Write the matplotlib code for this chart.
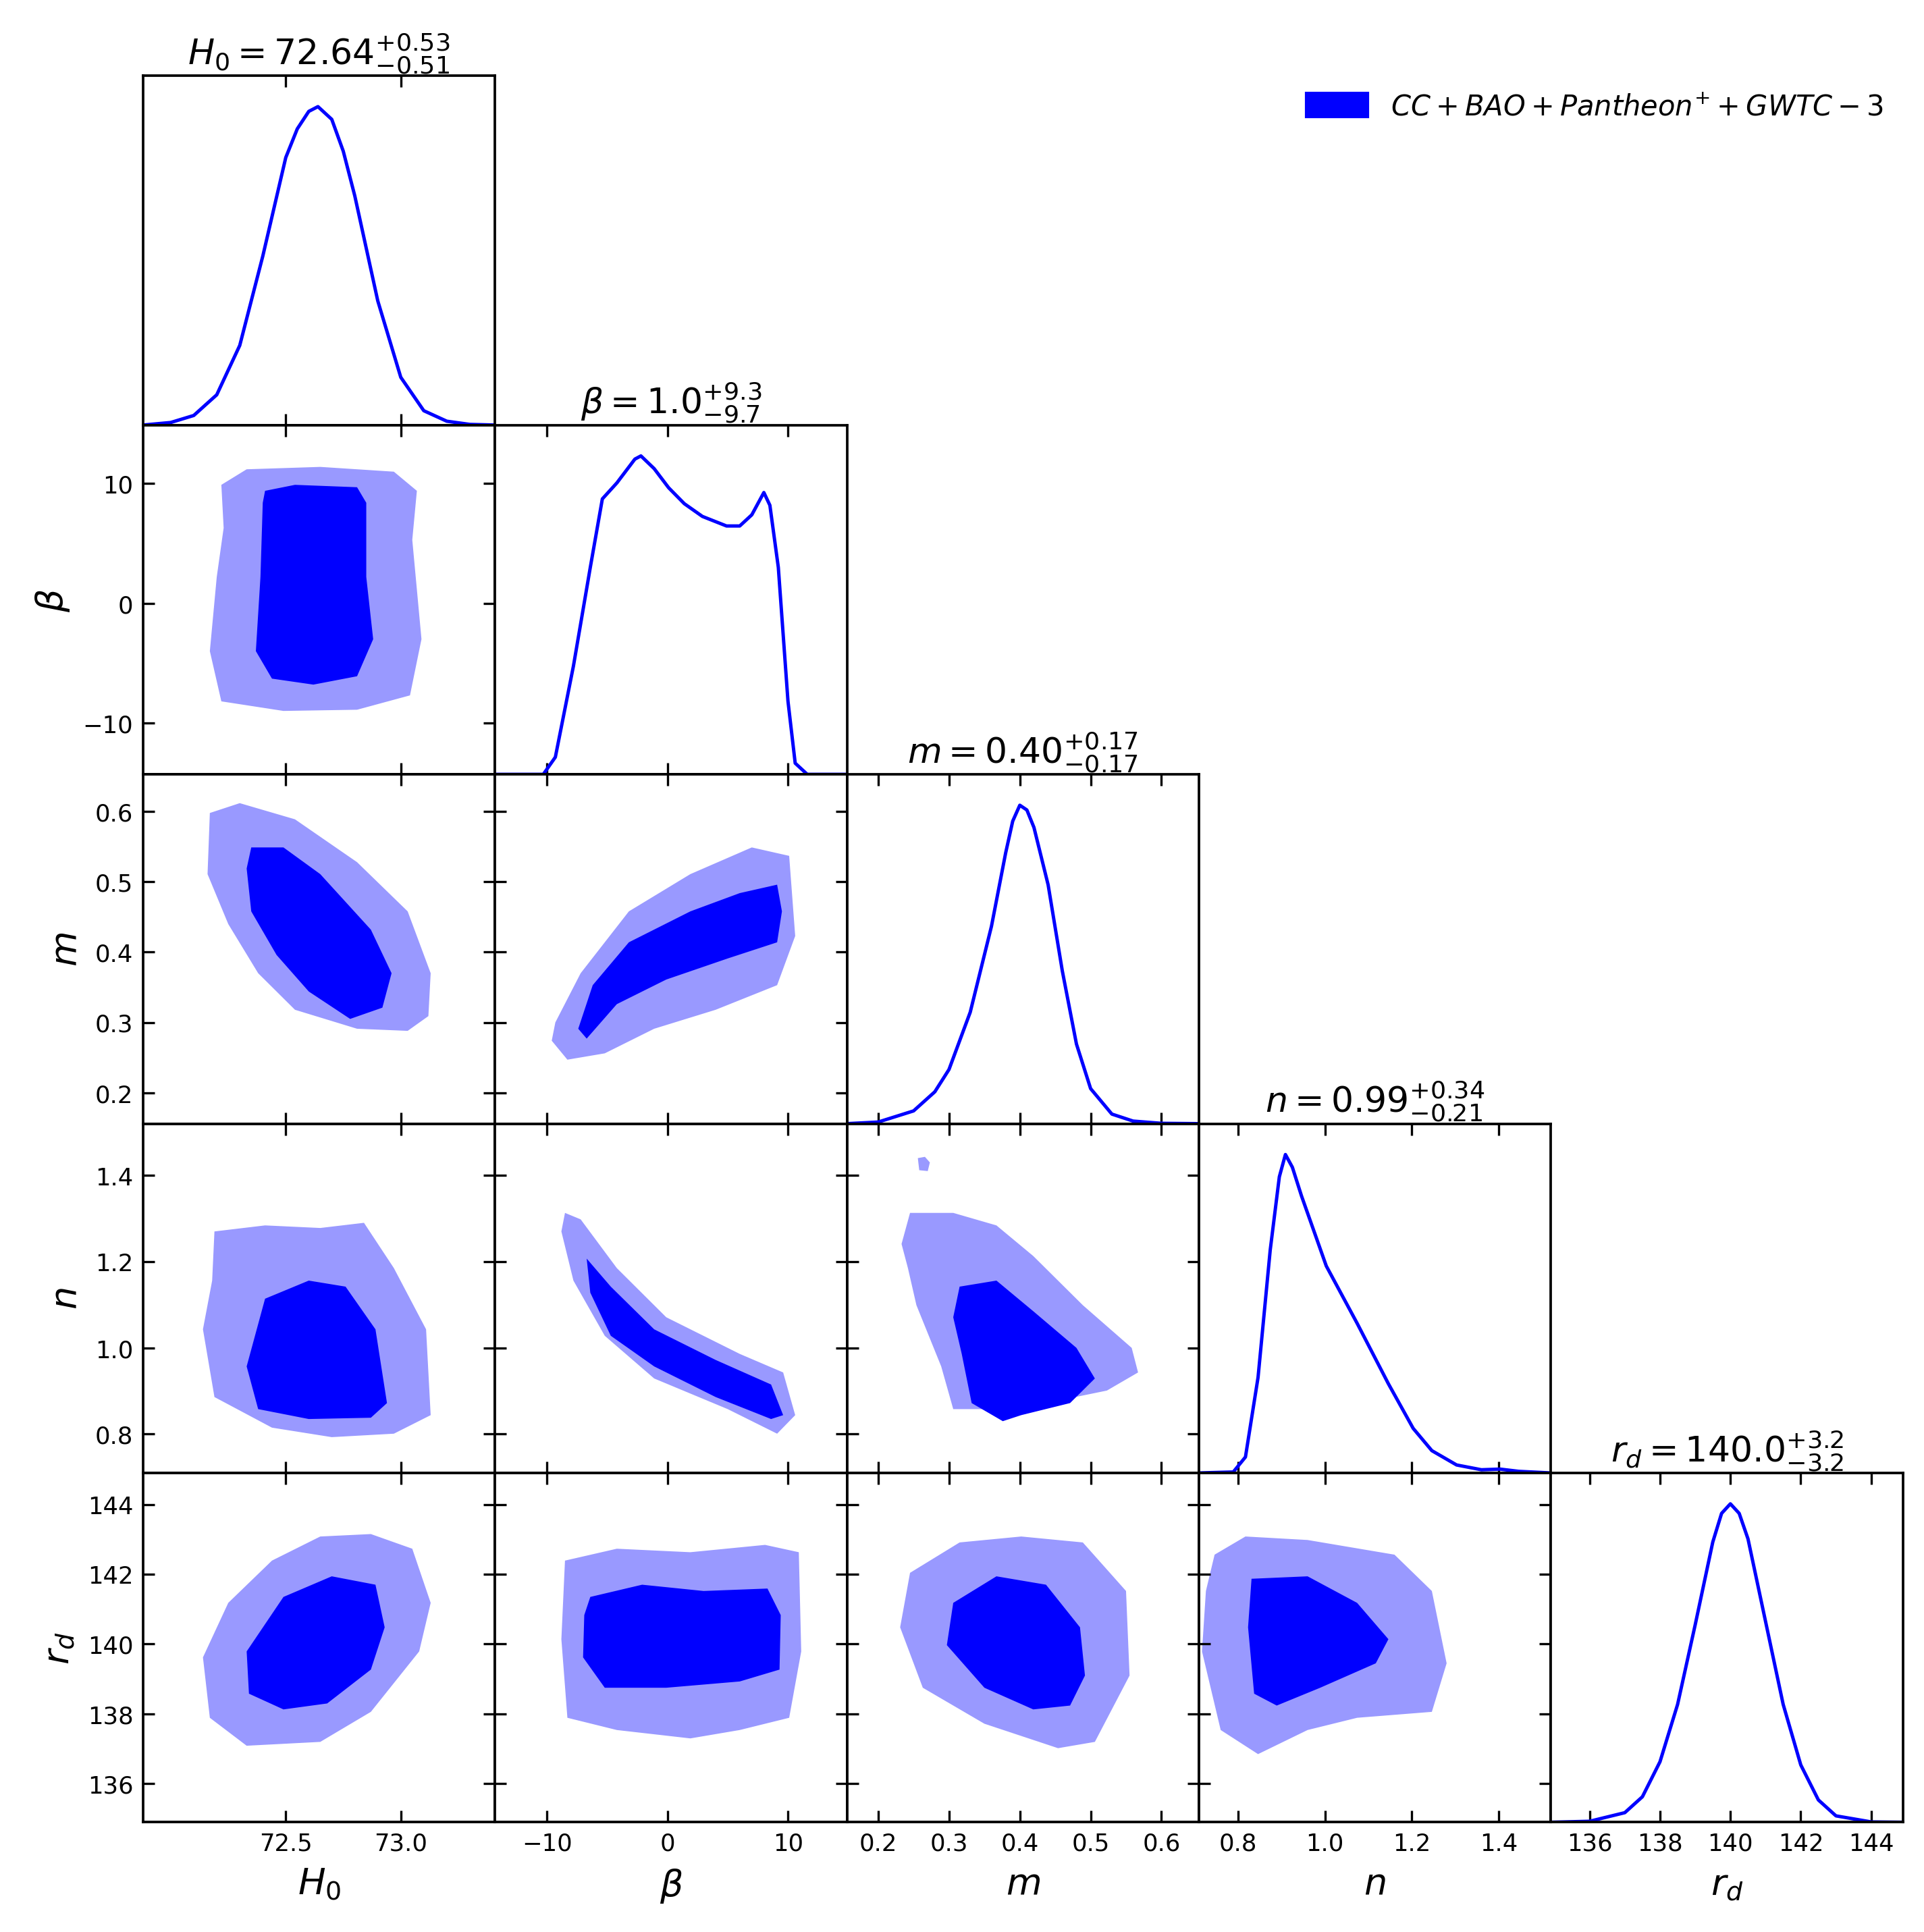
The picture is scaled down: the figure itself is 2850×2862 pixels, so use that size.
import matplotlib.pyplot as plt
from matplotlib.patches import Patch

# parameter names, titles and plotting ranges
names = ["H0", "beta", "m", "n", "rd"]
labels = [r"$H_0$", r"$\beta$", r"$m$", r"$n$", r"$r_d$"]
titles = [r"$H_0 = 72.64^{+0.53}_{-0.51}$", r"$\beta = 1.0^{+9.3}_{-9.7}$",
          r"$m = 0.40^{+0.17}_{-0.17}$", r"$n = 0.99^{+0.34}_{-0.21}$",
          r"$r_d = 140.0^{+3.2}_{-3.2}$"]
limits = {"H0": (71.88, 73.41), "beta": (-14.3, 14.9), "m": (0.156, 0.653),
          "n": (0.71, 1.52), "rd": (134.9, 144.9)}
ticks = {"H0": [72.5, 73.0], "beta": [-10, 0, 10], "m": [0.2, 0.3, 0.4, 0.5, 0.6],
         "n": [0.8, 1.0, 1.2, 1.4], "rd": [136, 138, 140, 142, 144]}
ticklabels = {"H0": ["72.5", "73.0"], "beta": ["\u221210", "0", "10"],
              "m": ["0.2", "0.3", "0.4", "0.5", "0.6"], "n": ["0.8", "1.0", "1.2", "1.4"],
              "rd": ["136", "138", "140", "142", "144"]}

# 1D marginals (normalised to peak = 1)
h0_x = [71.88, 72.0, 72.1, 72.2, 72.3, 72.4, 72.5, 72.55, 72.6, 72.64, 72.7, 72.75, 72.8, 72.9, 73.0, 73.1, 73.2, 73.3, 73.41]
h0_p = [0.0, 0.008, 0.03, 0.095, 0.25, 0.53, 0.84, 0.93, 0.985, 1.0, 0.96, 0.86, 0.72, 0.39, 0.15, 0.045, 0.012, 0.002, 0.0]
beta_x = [-14.3, -10.3, -9.3, -7.8, -6.4, -5.4, -4.2, -2.7, -2.2, -1.1, 0.1, 1.4, 2.9, 4.9, 6.0, 7.0, 8.0, 8.5, 9.2, 10.0, 10.6, 11.6, 14.9]
beta_p = [0.0, 0.0, 0.054, 0.34, 0.65, 0.865, 0.915, 0.99, 1.0, 0.96, 0.90, 0.85, 0.81, 0.78, 0.78, 0.815, 0.885, 0.845, 0.65, 0.23, 0.035, 0.0, 0.0]
m_x = [0.156, 0.2, 0.25, 0.28, 0.3, 0.33, 0.36, 0.38, 0.39, 0.40, 0.41, 0.42, 0.44, 0.46, 0.48, 0.50, 0.53, 0.56, 0.6, 0.653]
m_p = [0.0, 0.005, 0.04, 0.10, 0.17, 0.35, 0.62, 0.85, 0.95, 1.0, 0.985, 0.93, 0.75, 0.48, 0.25, 0.11, 0.03, 0.008, 0.001, 0.0]
n_x = [0.71, 0.789, 0.817, 0.846, 0.874, 0.895, 0.909, 0.925, 0.946, 1.003, 1.074, 1.146, 1.203, 1.246, 1.303, 1.36, 1.403, 1.446, 1.52]
n_p = [0.0, 0.003, 0.05, 0.3, 0.7, 0.93, 1.0, 0.96, 0.87, 0.65, 0.47, 0.28, 0.14, 0.07, 0.025, 0.01, 0.012, 0.005, 0.0]
rd_x = [134.9, 136, 137, 137.5, 138, 138.5, 139, 139.5, 139.75, 140, 140.25, 140.5, 141, 141.5, 142, 142.5, 143, 144, 144.9]
rd_p = [0.0, 0.003, 0.03, 0.08, 0.19, 0.37, 0.62, 0.88, 0.97, 1.0, 0.97, 0.89, 0.63, 0.37, 0.18, 0.07, 0.02, 0.001, 0.0]
marginals = {"H0": (h0_x, h0_p), "beta": (beta_x, beta_p), "m": (m_x, m_p),
             "n": (n_x, n_p), "rd": (rd_x, rd_p)}

# 2D contours: (x-param, y-param) -> list of (level, xs, ys)
contours = {
    ("H0", "beta"): [
        ("outer", [72.22, 72.33, 72.65, 72.97, 73.07, 73.05, 73.09, 73.04, 72.81, 72.49, 72.22, 72.17, 72.20, 72.23],
                  [9.9, 11.2, 11.4, 11.0, 9.4, 5.3, -3.0, -7.7, -8.9, -9.0, -8.2, -4.0, 2.2, 6.3]),
        ("inner", [72.41, 72.54, 72.81, 72.85, 72.85, 72.88, 72.81, 72.62, 72.44, 72.37, 72.39, 72.40],
                  [9.4, 9.9, 9.7, 8.4, 2.2, -3.0, -6.1, -6.8, -6.3, -4.0, 2.2, 8.4]),
    ],
    ("H0", "m"): [
        ("outer", [72.17, 72.30, 72.54, 72.81, 73.03, 73.13, 73.12, 73.03, 72.81, 72.54, 72.38, 72.25, 72.16],
                  [0.598, 0.612, 0.589, 0.528, 0.458, 0.370, 0.309, 0.288, 0.291, 0.318, 0.370, 0.440, 0.511]),
        ("inner", [72.35, 72.49, 72.65, 72.87, 72.96, 72.92, 72.78, 72.60, 72.46, 72.35, 72.33],
                  [0.549, 0.549, 0.511, 0.432, 0.370, 0.321, 0.305, 0.344, 0.396, 0.458, 0.519]),
    ],
    ("beta", "m"): [
        ("outer", [-9.3, -7.2, -3.2, 1.9, 7.0, 10.1, 10.6, 9.1, 4.0, -1.1, -5.2, -8.3, -9.6],
                  [0.300, 0.370, 0.458, 0.511, 0.549, 0.537, 0.423, 0.353, 0.318, 0.291, 0.256, 0.247, 0.274]),
        ("inner", [-7.4, -6.2, -3.2, 1.9, 6.0, 9.1, 9.5, 9.1, 5.0, -0.1, -4.2, -6.7],
                  [0.291, 0.353, 0.414, 0.458, 0.484, 0.496, 0.458, 0.414, 0.391, 0.361, 0.326, 0.277]),
    ],
    ("H0", "n"): [
        ("outer", [72.19, 72.41, 72.65, 72.84, 72.97, 73.11, 73.13, 72.97, 72.70, 72.44, 72.19, 72.14, 72.18],
                  [1.270, 1.284, 1.278, 1.290, 1.185, 1.043, 0.844, 0.801, 0.793, 0.815, 0.886, 1.043, 1.156]),
        ("inner", [72.41, 72.60, 72.76, 72.89, 72.94, 72.87, 72.60, 72.38, 72.33],
                  [1.114, 1.156, 1.142, 1.043, 0.872, 0.838, 0.835, 0.858, 0.957]),
    ],
    ("beta", "n"): [
        ("outer", [-8.5, -7.2, -4.2, -0.1, 6.0, 9.6, 10.6, 9.1, 5.0, -1.1, -5.2, -7.8, -8.8],
                  [1.313, 1.298, 1.185, 1.071, 0.986, 0.943, 0.844, 0.801, 0.858, 0.929, 1.028, 1.156, 1.270]),
        ("inner", [-6.7, -4.7, -1.1, 4.0, 8.6, 9.6, 8.6, 4.0, -1.1, -4.7, -6.4],
                  [1.207, 1.142, 1.043, 0.972, 0.915, 0.844, 0.835, 0.886, 0.957, 1.028, 1.128]),
    ],
    ("m", "n"): [
        ("outer", [0.245, 0.306, 0.367, 0.419, 0.489, 0.558, 0.567, 0.523, 0.437, 0.350, 0.306, 0.289, 0.254, 0.242, 0.233],
                  [1.313, 1.313, 1.284, 1.213, 1.099, 1.0, 0.943, 0.901, 0.872, 0.858, 0.858, 0.957, 1.099, 1.185, 1.241]),
        ("outer", [0.256, 0.266, 0.273, 0.270, 0.258], [1.44, 1.443, 1.43, 1.41, 1.412]),
        ("inner", [0.315, 0.367, 0.419, 0.480, 0.506, 0.471, 0.402, 0.376, 0.332, 0.318, 0.306],
                  [1.142, 1.156, 1.085, 1.0, 0.929, 0.872, 0.844, 0.830, 0.872, 0.986, 1.071]),
    ],
    ("H0", "rd"): [
        ("outer", [72.14, 72.25, 72.44, 72.65, 72.87, 73.05, 73.13, 73.08, 72.87, 72.65, 72.33, 72.17],
                  [139.62, 141.18, 142.39, 143.08, 143.15, 142.73, 141.18, 139.79, 138.06, 137.20, 137.09, 137.89]),
        ("inner", [72.33, 72.49, 72.70, 72.89, 72.93, 72.87, 72.68, 72.49, 72.34],
                  [139.79, 141.35, 141.94, 141.70, 140.48, 139.27, 138.30, 138.13, 138.58]),
    ],
    ("beta", "rd"): [
        ("outer", [-8.5, -4.2, 1.9, 8.1, 10.9, 11.1, 10.1, 6.0, 1.9, -4.2, -8.3, -8.8],
                  [142.39, 142.73, 142.63, 142.84, 142.63, 139.79, 137.89, 137.54, 137.30, 137.54, 137.89, 140.14]),
        ("inner", [-6.4, -2.1, 3.0, 8.3, 9.4, 9.3, 6.0, -0.1, -5.2, -7.0, -6.9],
                  [141.35, 141.70, 141.52, 141.59, 140.83, 139.27, 138.93, 138.75, 138.75, 139.62, 140.83]),
    ],
    ("m", "rd"): [
        ("outer", [0.245, 0.315, 0.402, 0.489, 0.550, 0.555, 0.506, 0.454, 0.350, 0.263, 0.231],
                  [142.04, 142.91, 143.08, 142.91, 141.52, 139.10, 137.20, 137.02, 137.72, 138.75, 140.48]),
        ("inner", [0.306, 0.367, 0.437, 0.485, 0.492, 0.471, 0.419, 0.350, 0.297],
                  [141.18, 141.94, 141.70, 140.48, 139.10, 138.24, 138.13, 138.75, 139.97]),
    ],
    ("n", "rd"): [
        ("outer", [0.746, 0.817, 0.960, 1.160, 1.246, 1.280, 1.246, 1.074, 0.960, 0.846, 0.760, 0.717, 0.726],
                  [142.56, 143.08, 142.98, 142.56, 141.52, 139.45, 138.06, 137.89, 137.54, 136.85, 137.54, 139.79, 141.52]),
        ("inner", [0.831, 0.960, 1.074, 1.146, 1.117, 0.989, 0.889, 0.837, 0.823],
                  [141.87, 141.94, 141.18, 140.14, 139.45, 138.75, 138.24, 138.58, 140.48]),
    ],
}

colors = {"outer": "#9999ff", "inner": "#0000ff"}
legend_label = r"$CC + BAO + Pantheon^{+} + GWTC-3$"

fig = plt.figure(figsize=(9.5, 9.543), dpi=300)
left, right, bottom, top = 0.0744, 0.989, 0.0568, 0.9605
npar = len(names)
w = (right - left) / npar
h = (top - bottom) / npar

for i in range(npar):
    for j in range(i + 1):
        ax = fig.add_axes([left + j * w, top - (i + 1) * h, w, h])
        px = names[j]
        ax.set_xlim(*limits[px])
        ax.set_xticks(ticks[px])
        ax.tick_params(direction="in", top=True, right=True, labelsize=8.5,
                       length=4, width=0.8)
        if i == j:
            xs, ps = marginals[px]
            ax.plot(xs, ps, color="#0000ff", lw=1.2)
            ax.set_ylim(0, 1.097)
            ax.set_yticks([])
            ax.set_title(titles[i], fontsize=12.5, pad=4)
        else:
            py = names[i]
            ax.set_ylim(*limits[py])
            ax.set_yticks(ticks[py])
            for level, cx, cy in contours[(px, py)]:
                ax.fill(cx, cy, color=colors[level], lw=0)
            if j == 0:
                ax.set_yticklabels(ticklabels[py])
                ax.set_ylabel(labels[i], fontsize=13)
            else:
                ax.set_yticklabels([])
        if i == npar - 1:
            ax.set_xticklabels(ticklabels[px])
            ax.set_xlabel(labels[j], fontsize=13)
        else:
            ax.set_xticklabels([])
        for s in ax.spines.values():
            s.set_linewidth(0.9)

fig.legend(handles=[Patch(color="#0000ff", label=legend_label)],
           loc="upper right", bbox_to_anchor=(0.992, 0.965), frameon=False,
           fontsize=10, handlelength=2.2, handleheight=0.9)

fig.savefig("out.png", dpi=300)
